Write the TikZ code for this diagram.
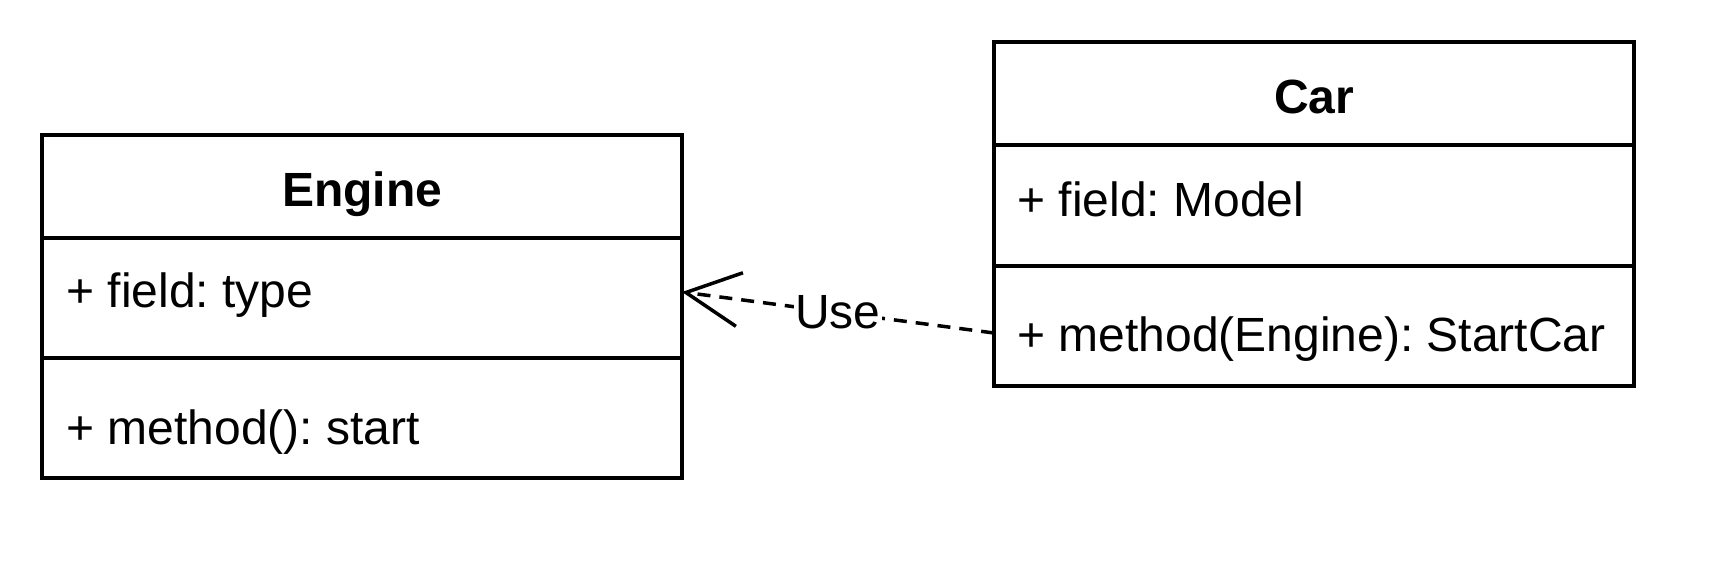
\documentclass[tikz,border=0pt]{standalone}
\usepackage{fontspec}
\setmainfont{Liberation Sans}
\usetikzlibrary{arrows.meta}
\frenchspacing

\begin{document}
\begin{tikzpicture}[x=0.5pt, y=-0.5pt, font=\fontsize{24}{28}\selectfont,
  cell/.style={draw, line width=1.75pt, anchor=north west, minimum width=320pt, inner sep=0pt, outer sep=0pt},
  member/.style={anchor=base west, inner sep=0pt},
  title/.style={anchor=base, inner sep=0pt, font=\fontsize{24}{28}\selectfont\bfseries},
  usage/.style={line width=1.75pt, dash pattern=on 6.5pt off 4.5pt, -{Straight Barb[length=27pt, width=27pt]}}]
\fill[white] (0,0) rectangle (1728,588);
\useasboundingbox (0,0) rectangle (1728,588);
% Engine
\node[cell, minimum height=51.5pt] (engine-head) at (42,135) {};
\node[cell, minimum height=60pt] (engine-attr) at (engine-head.south west) {};
\node[cell, minimum height=60pt] (engine-ops) at (engine-attr.south west) {};
\node[title] (engine-name) at (362,206) {Engine};
\node[member] (engine-field) at (66,307) {+ field: type};
\node[member] (engine-method) at (66,444) {+ method(): start};
% Car
\node[cell, minimum height=51.5pt] (car-head) at (994,42) {};
\node[cell, minimum height=60.5pt] (car-attr) at (car-head.south west) {};
\node[cell, minimum height=60pt] (car-ops) at (car-attr.south west) {};
\node[title] (car-name) at (1314,114) {Car};
\node[member] (car-field) at (1017,217) {+ field: Model};
\node[member] (car-method) at (1017,351) {+ method(Engine): StartCar};
% dependency
\draw[usage] ([yshift=-3.5pt]car-ops.west) -- node[fill=white, inner sep=0.5pt] (use-label) {Use} ([yshift=3pt]engine-attr.east);
\end{tikzpicture}
\end{document}
